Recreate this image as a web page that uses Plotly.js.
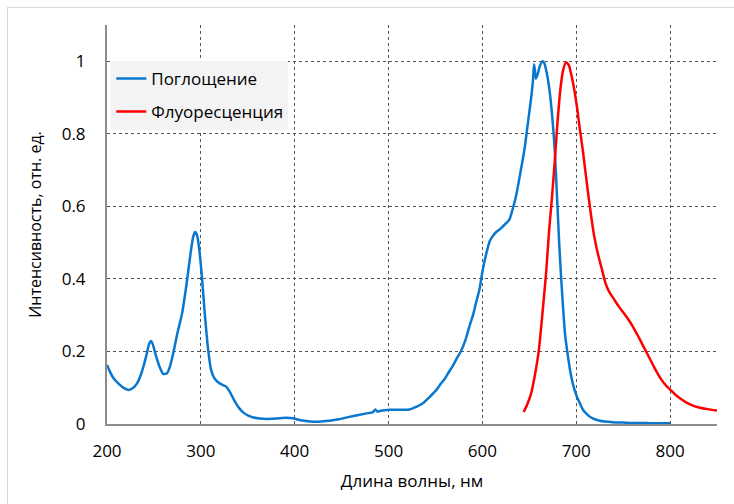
<!DOCTYPE html>
<html>
<head>
<meta charset="utf-8">
<script src="https://cdn.plot.ly/plotly-3.0.1.min.js"></script>
<style>
  html, body { margin: 0; padding: 0; background: #fff; }
  #wrap { position: relative; width: 734px; height: 504px; overflow: hidden; }
  #frame { position: absolute; left: 7px; top: 7px; width: 740px; height: 510px; border: 1px solid #d9d9d9; box-sizing: border-box; pointer-events: none; }
  #chart { position: absolute; left: 0; top: 0; width: 734px; height: 504px; }
</style>
</head>
<body>
<div id="wrap">
  <div id="chart"></div>
  <div id="frame"></div>
</div>
<script>
// Absorption (Поглощение)
const absX = [200, 203, 207, 212, 217, 223, 228, 232, 236, 239, 242, 245, 247, 249, 252, 256, 260, 264, 267, 271, 275, 280, 285, 289, 292, 294, 296, 298, 301, 304, 308, 311, 315, 320, 327, 331, 336, 341, 346, 350, 356, 363, 370, 380, 391, 398, 405, 412, 420, 428, 437, 447, 457, 468, 478, 483, 486, 488, 491, 496, 501, 510, 522, 530, 537, 544, 551, 556, 560, 564, 568, 573, 577, 582, 586, 590, 593, 597, 600, 604, 608, 611, 615, 620, 623, 626, 629, 632, 636, 641, 645, 648, 650, 652, 654, 655, 656, 657, 659, 661, 664, 666, 668, 671, 674, 677, 680, 682, 684, 686, 688, 691, 694, 697, 700, 703, 707, 711, 717, 725, 739, 750, 760, 770, 780, 790, 800];
const absY = [0.163, 0.145, 0.126, 0.112, 0.101, 0.094, 0.100, 0.112, 0.135, 0.160, 0.190, 0.222, 0.229, 0.218, 0.190, 0.158, 0.138, 0.140, 0.158, 0.200, 0.250, 0.305, 0.390, 0.470, 0.518, 0.529, 0.520, 0.488, 0.410, 0.310, 0.200, 0.148, 0.124, 0.112, 0.103, 0.088, 0.063, 0.043, 0.030, 0.024, 0.018, 0.015, 0.014, 0.015, 0.017, 0.016, 0.011, 0.008, 0.006, 0.007, 0.009, 0.013, 0.019, 0.025, 0.030, 0.032, 0.040, 0.034, 0.036, 0.038, 0.039, 0.039, 0.040, 0.048, 0.058, 0.075, 0.094, 0.112, 0.125, 0.142, 0.158, 0.182, 0.200, 0.232, 0.268, 0.300, 0.332, 0.372, 0.420, 0.468, 0.505, 0.518, 0.530, 0.540, 0.548, 0.555, 0.565, 0.590, 0.630, 0.700, 0.760, 0.820, 0.860, 0.900, 0.950, 0.992, 0.975, 0.952, 0.965, 0.985, 1.000, 0.995, 0.975, 0.930, 0.860, 0.760, 0.600, 0.490, 0.400, 0.320, 0.250, 0.190, 0.140, 0.105, 0.080, 0.062, 0.040, 0.028, 0.016, 0.009, 0.005, 0.004, 0.003, 0.003, 0.002, 0.002, 0.002];

// Fluorescence (Флуоресценция)
const fluX = [644, 648, 652, 656, 660, 664, 668, 671, 674, 677, 680, 683, 686, 689, 692, 695, 698, 701, 704, 707, 711, 715, 719, 723, 727, 731, 735, 740, 745, 750, 755, 760, 766, 772, 778, 784, 790, 796, 800, 806, 812, 818, 825, 832, 840, 850];
const fluY = [0.033, 0.055, 0.085, 0.135, 0.200, 0.305, 0.420, 0.530, 0.620, 0.720, 0.830, 0.920, 0.975, 0.997, 0.990, 0.960, 0.920, 0.870, 0.810, 0.755, 0.670, 0.590, 0.520, 0.470, 0.430, 0.390, 0.365, 0.345, 0.325, 0.308, 0.290, 0.270, 0.242, 0.212, 0.182, 0.152, 0.125, 0.105, 0.095, 0.080, 0.068, 0.058, 0.050, 0.045, 0.041, 0.037];

const xTicks = [200, 300, 400, 500, 600, 700, 800];
const yTicks = [0, 0.2, 0.4, 0.6, 0.8, 1];
const yTickText = ["0", "0.2", "0.4", "0.6", "0.8", "1"];

const seriesNames = ["Поглощение", "Флуоресценция"];

const traces = [
  { x: absX, y: absY, type: 'scatter', mode: 'lines', name: seriesNames[0], legendgroup: 'a',
    line: { color: '#0a77cf', width: 2.5, shape: 'spline', smoothing: 0.6 } },
  { x: fluX, y: fluY, type: 'scatter', mode: 'lines', name: seriesNames[1], legendgroup: 'b',
    line: { color: '#ff0000', width: 2.5, shape: 'spline', smoothing: 0.6 } }
];

const font = "'Open Sans', 'Noto Sans', sans-serif";
const txt = '#000000';

const layout = {
  width: 734, height: 504,
  margin: { l: 107, r: 17, t: 25, b: 80 },
  paper_bgcolor: 'rgba(0,0,0,0)',
  plot_bgcolor: '#ffffff',
  font: { family: font, size: 16, color: txt },
  showlegend: true,
  legend: {
    x: 0.007, y: 0.91, xanchor: 'left', yanchor: 'top',
    bgcolor: '#f3f3f3', borderwidth: 0,
    font: { family: font, size: 17, color: txt },
    tracegroupgap: 8, itemwidth: 30
  },
  xaxis: {
    range: [200, 850], tickvals: xTicks, ticktext: xTicks.map(String),
    showline: true, linecolor: '#8c8c8c', linewidth: 2,
    showgrid: true, gridcolor: '#555555', griddash: 'dot', gridwidth: 1,
    zeroline: false, ticks: '', ticklabelstandoff: 11,
    tickfont: { family: font, size: 17, color: txt },
    title: { text: 'Длина волны, нм', font: { family: font, size: 17, color: txt }, standoff: 14 }
  },
  yaxis: {
    range: [0, 1.1], tickvals: yTicks, ticktext: yTickText,
    showline: true, linecolor: '#8c8c8c', linewidth: 2,
    showgrid: true, gridcolor: '#555555', griddash: 'dot', gridwidth: 1,
    zeroline: false, ticks: '', ticklabelstandoff: 16,
    tickfont: { family: font, size: 17, color: txt },
    title: { text: 'Интенсивность, отн. ед.', font: { family: font, size: 16, color: txt }, standoff: 16 }
  }
};

Plotly.newPlot('chart', traces, layout, { displayModeBar: false, staticPlot: true });
</script>
</body>
</html>
